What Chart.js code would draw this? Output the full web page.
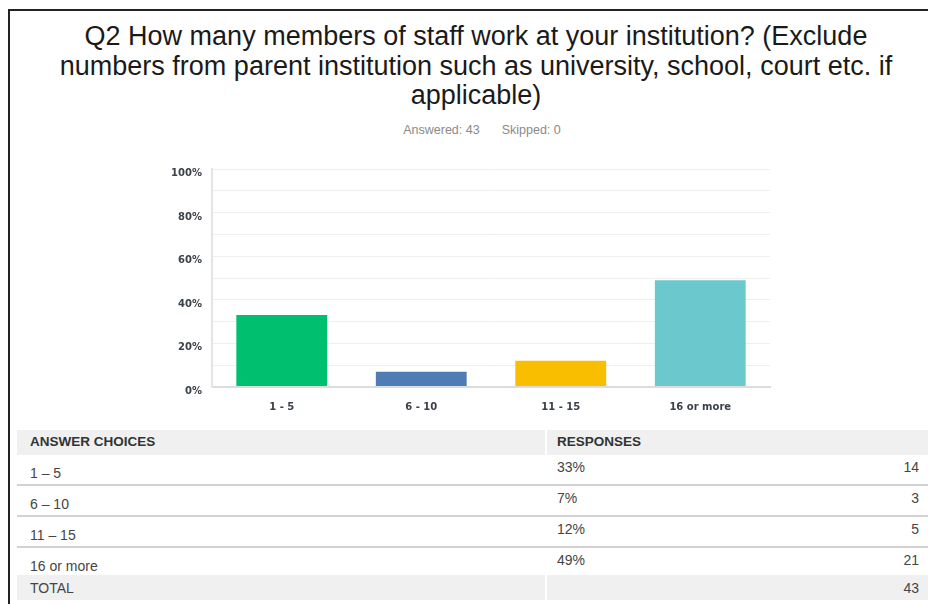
<!DOCTYPE html>
<html>
<head>
<meta charset="utf-8">
<title>Q2 staff numbers</title>
<script src="https://cdn.jsdelivr.net/npm/chart.js@4.4.0/dist/chart.umd.min.js"></script>
<style>
    html, body { margin: 0; padding: 0; background: #fff; }
    body { width: 928px; height: 604px; position: relative; overflow: hidden; font-family: "Liberation Sans", Arial, sans-serif; }
    #frame { position: absolute; left: 8px; top: 9px; right: -4px; bottom: -4px; border-left: 2px solid #222; border-top: 2px solid #222; }
    #title { position: absolute; left: 24px; width: 904px; top: 22px; text-align: center; font-size: 27px; line-height: 29.5px; color: #1a1a1a; }
    #subtitle { position: absolute; left: 24px; width: 916px; top: 123px; text-align: center; font-size: 12.5px; color: #8a8a8a; }
    #subtitle span + span { margin-left: 22px; }
    #chartBox { position: absolute; left: 140px; top: 150px; width: 650px; height: 270px; }
    #summary { position: absolute; left: 17px; top: 430px; width: 911px; height: 170px; font-size: 14px; color: #454545; }
    .cell { position: absolute; white-space: nowrap; line-height: 16px; }
    .band { position: absolute; background: #f0f0f0; }
    .rule { position: absolute; left: 0; width: 911px; height: 2px; background: #d2d2d2; }
    .head { font-weight: bold; color: #333; font-size: 13.5px; }
</style>
</head>
<body>
<div id="frame"></div>
<div id="title">Q2 How many members of staff work at your institution? (Exclude<br>numbers from parent institution such as university, school, court etc. if<br>applicable)</div>
<div id="subtitle"><span>Answered: 43</span><span>Skipped: 0</span></div>
<div id="chartBox"><canvas id="staffChart"></canvas></div>
<div id="summary"></div>

<script>
// survey results
const choices = ['1 – 5', '6 – 10', '11 – 15', '16 or more'];
const axisLabels = ['1 - 5', '6 - 10', '11 - 15', '16 or more'];
const percents = [33, 7, 12, 49];
const counts = [14, 3, 5, 21];
const totalCount = 43;
const barColors = ['#00bf6f', '#507cb6', '#f9be00', '#6bc8cd'];

const tickFont = { family: 'DejaVu Sans', size: 10, weight: 'bold', lineHeight: 0.9 };

new Chart(document.getElementById('staffChart'), {
    type: 'bar',
    data: {
        labels: axisLabels,
        datasets: [{
            data: percents,
            backgroundColor: barColors,
            borderWidth: 0,
            categoryPercentage: 1,
            barPercentage: 0.651
        }]
    },
    options: {
        responsive: true,
        maintainAspectRatio: false,
        animation: false,
        layout: { padding: { top: 14, right: 20 } },
        plugins: { legend: { display: false }, tooltip: { enabled: false } },
        scales: {
            x: {
                grid: { display: false },
                border: { color: '#dcdcdc', width: 2 },
                ticks: { color: '#3b4148', padding: 6, font: { family: 'DejaVu Sans', size: 10, weight: 'bold' } },
                afterFit: (scale) => { scale.height = 33; }
            },
            y: {
                min: 0,
                max: 100,
                grid: {
                    drawTicks: false,
                    color: (ctx) => ctx.tick.value === 0 ? '#dcdcdc' : '#eeeeee',
                    lineWidth: (ctx) => ctx.tick.value === 0 ? 2 : 1
                },
                border: { color: '#e4e4e4', width: 2 },
                ticks: {
                    stepSize: 10,
                    padding: 10,
                    color: '#3b4148',
                    font: tickFont,
                    // labels sit a little below their grid lines, so push them down with a blank first line
                    callback: (v) => v % 20 === 0 ? ['', v + '%'] : ''
                },
                afterFit: (scale) => { scale.width = 72; }
            }
        }
    }
});

// answer table under the chart
const summary = document.getElementById('summary');
function add(cls, css, text) {
    const el = document.createElement('div');
    el.className = cls;
    el.style.cssText = css;
    if (text !== undefined) el.textContent = text;
    summary.appendChild(el);
    return el;
}

add('band', 'left:0;top:0;width:528px;height:25px;');
add('band', 'left:530px;top:0;width:381px;height:25px;');
add('cell head', 'left:13px;top:4px;', 'ANSWER CHOICES');
add('cell head', 'left:540px;top:4px;', 'RESPONSES');

const rowTops = [25, 56, 87, 118];
choices.forEach((c, i) => {
    const top = rowTops[i];
    add('cell', `left:13px;top:${top + 10}px;`, c);
    add('cell', `left:540px;top:${top + 4}px;`, percents[i] + '%');
    add('cell', `right:9px;top:${top + 4}px;`, counts[i]);
    if (i < choices.length - 1) add('rule', `top:${top + 29}px;`);
});

add('band', 'left:0;top:145px;width:528px;height:25px;');
add('band', 'left:530px;top:145px;width:381px;height:25px;');
add('cell', 'left:13px;top:150px;', 'TOTAL');
add('cell', 'right:9px;top:150px;', totalCount);
</script>
</body>
</html>
